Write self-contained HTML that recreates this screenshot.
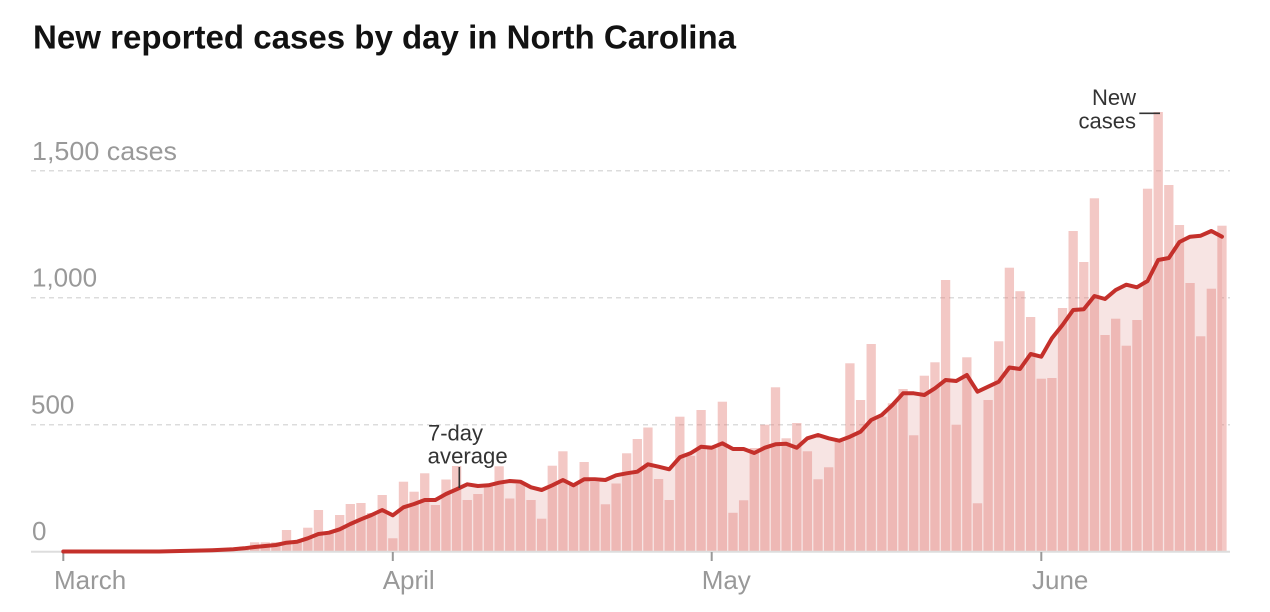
<!DOCTYPE html>
<html><head><meta charset="utf-8"><style>
html,body{margin:0;padding:0;background:#fff;}
svg{display:block;}
</style></head><body>
<svg width="1270" height="612" viewBox="0 0 1270 612" xmlns="http://www.w3.org/2000/svg">
<rect x="0" y="0" width="1270" height="612" fill="#fff"/>
<text x="33" y="48.3" font-family="Liberation Sans, Arial, sans-serif" font-weight="bold" font-size="33" fill="#121212" textLength="703" lengthAdjust="spacingAndGlyphs">New reported cases by day in North Carolina</text>
<g stroke="#dcdcdc" stroke-width="1.5" stroke-dasharray="5 4">
<line x1="31" y1="170.7" x2="1230" y2="170.7"/>
<line x1="31" y1="297.7" x2="1230" y2="297.7"/>
<line x1="31" y1="424.7" x2="1230" y2="424.7"/>
</g>
<g font-family="Liberation Sans, Arial, sans-serif" font-size="26" fill="#999">
<text x="32" y="160" textLength="145" lengthAdjust="spacingAndGlyphs">1,500 cases</text>
<text x="32" y="286.7">1,000</text>
<text x="31" y="413.3">500</text>
<text x="32" y="540">0</text>
</g>
<polygon fill="#f7e4e3" points="63.3,551.7 63.3,551.5 158.97,551.5 169.6,551.3 180.23,551 190.86,550.8 201.49,550.5 212.12,550.2 222.75,549.8 233.38,549.3 244.01,548.3 254.64,547 265.27,546 275.9,545 286.53,542.7 297.16,541.7 307.79,538.3 318.42,534 329.05,532.7 339.68,529.3 350.31,524 360.94,519.3 371.57,515 382.2,510 392.83,515.3 403.46,507.3 414.09,504 424.72,500 435.35,500 445.98,494 456.61,489.3 467.24,484.3 477.87,486 488.5,485.3 499.13,482.7 509.76,481 520.39,481.7 531.02,487.3 541.65,490 552.28,485.3 562.91,480 573.54,485.3 584.17,479.3 594.8,479.3 605.43,480 616.06,475.3 626.69,473.3 637.32,471.7 647.95,464.3 658.58,466.7 669.21,469.3 679.84,457.3 690.47,453.3 701.1,446.7 711.73,447.7 722.36,443.3 732.99,449 743.62,449 754.25,453 764.88,447.7 775.51,444.3 786.14,443.7 796.77,447.7 807.4,438.3 818.03,435 828.66,438.3 839.29,440.7 849.92,436.7 860.55,431.7 871.18,420 881.81,415 892.44,405 903.07,393.3 913.7,393.3 924.33,395 934.96,388.3 945.59,380 956.22,381 966.85,375 977.48,391.7 988.11,386.7 998.74,381.7 1009.37,367.5 1020,369 1030.63,354 1041.26,356.7 1051.89,338.3 1062.52,325 1073.15,310 1083.78,309.3 1094.41,296 1105.04,299 1115.67,290 1126.3,284.7 1136.93,287.3 1147.56,281 1158.19,260 1168.82,258 1179.45,242 1190.08,236.7 1200.71,235.7 1211.34,231 1221.97,236.7 1221.97,551.7"/>
<g fill="rgb(226,124,117)" fill-opacity="0.42">
<rect x="164.95" y="551.4" width="9.3" height="0.6"/>
<rect x="175.58" y="551" width="9.3" height="1"/>
<rect x="186.21" y="551" width="9.3" height="1"/>
<rect x="196.84" y="550.5" width="9.3" height="1.5"/>
<rect x="207.47" y="550" width="9.3" height="2"/>
<rect x="218.10" y="549.5" width="9.3" height="2.5"/>
<rect x="228.73" y="549" width="9.3" height="3"/>
<rect x="239.36" y="546.5" width="9.3" height="5.5"/>
<rect x="249.99" y="542.3" width="9.3" height="9.7"/>
<rect x="260.62" y="542.3" width="9.3" height="9.7"/>
<rect x="271.25" y="542.3" width="9.3" height="9.7"/>
<rect x="281.88" y="530" width="9.3" height="22"/>
<rect x="292.51" y="541.5" width="9.3" height="10.5"/>
<rect x="303.14" y="527.7" width="9.3" height="24.3"/>
<rect x="313.77" y="510" width="9.3" height="42"/>
<rect x="324.40" y="533" width="9.3" height="19"/>
<rect x="335.03" y="515" width="9.3" height="37"/>
<rect x="345.66" y="504" width="9.3" height="48"/>
<rect x="356.29" y="503" width="9.3" height="49"/>
<rect x="366.92" y="513" width="9.3" height="39"/>
<rect x="377.55" y="495" width="9.3" height="57"/>
<rect x="388.18" y="538.3" width="9.3" height="13.7"/>
<rect x="398.81" y="481.7" width="9.3" height="70.3"/>
<rect x="409.44" y="491.7" width="9.3" height="60.3"/>
<rect x="420.07" y="473.3" width="9.3" height="78.7"/>
<rect x="430.70" y="505" width="9.3" height="47"/>
<rect x="441.33" y="479.5" width="9.3" height="72.5"/>
<rect x="451.96" y="466" width="9.3" height="86"/>
<rect x="462.59" y="500" width="9.3" height="52"/>
<rect x="473.22" y="494" width="9.3" height="58"/>
<rect x="483.85" y="486.7" width="9.3" height="65.3"/>
<rect x="494.48" y="466.3" width="9.3" height="85.7"/>
<rect x="505.11" y="498.5" width="9.3" height="53.5"/>
<rect x="515.74" y="484" width="9.3" height="68"/>
<rect x="526.37" y="500" width="9.3" height="52"/>
<rect x="537.00" y="518.7" width="9.3" height="33.3"/>
<rect x="547.63" y="465.7" width="9.3" height="86.3"/>
<rect x="558.26" y="451.3" width="9.3" height="100.7"/>
<rect x="568.89" y="485" width="9.3" height="67"/>
<rect x="579.52" y="462" width="9.3" height="90"/>
<rect x="590.15" y="482" width="9.3" height="70"/>
<rect x="600.78" y="504.3" width="9.3" height="47.7"/>
<rect x="611.41" y="483.5" width="9.3" height="68.5"/>
<rect x="622.04" y="453.3" width="9.3" height="98.7"/>
<rect x="632.67" y="439" width="9.3" height="113"/>
<rect x="643.30" y="427.5" width="9.3" height="124.5"/>
<rect x="653.93" y="479" width="9.3" height="73"/>
<rect x="664.56" y="500" width="9.3" height="52"/>
<rect x="675.19" y="416.7" width="9.3" height="135.3"/>
<rect x="685.82" y="455.8" width="9.3" height="96.2"/>
<rect x="696.45" y="410" width="9.3" height="142"/>
<rect x="707.08" y="448.3" width="9.3" height="103.7"/>
<rect x="717.71" y="401.7" width="9.3" height="150.3"/>
<rect x="728.34" y="512.8" width="9.3" height="39.2"/>
<rect x="738.97" y="500.3" width="9.3" height="51.7"/>
<rect x="749.60" y="448" width="9.3" height="104"/>
<rect x="760.23" y="424.7" width="9.3" height="127.3"/>
<rect x="770.86" y="387.3" width="9.3" height="164.7"/>
<rect x="781.49" y="438.3" width="9.3" height="113.7"/>
<rect x="792.12" y="423" width="9.3" height="129"/>
<rect x="802.75" y="451.3" width="9.3" height="100.7"/>
<rect x="813.38" y="479.3" width="9.3" height="72.7"/>
<rect x="824.01" y="467.3" width="9.3" height="84.7"/>
<rect x="834.64" y="441.7" width="9.3" height="110.3"/>
<rect x="845.27" y="363.3" width="9.3" height="188.7"/>
<rect x="855.90" y="400" width="9.3" height="152"/>
<rect x="866.53" y="344" width="9.3" height="208"/>
<rect x="877.16" y="416.7" width="9.3" height="135.3"/>
<rect x="887.79" y="403.3" width="9.3" height="148.7"/>
<rect x="898.42" y="389" width="9.3" height="163"/>
<rect x="909.05" y="435.3" width="9.3" height="116.7"/>
<rect x="919.68" y="375.7" width="9.3" height="176.3"/>
<rect x="930.31" y="362.3" width="9.3" height="189.7"/>
<rect x="940.94" y="280" width="9.3" height="272"/>
<rect x="951.57" y="424.7" width="9.3" height="127.3"/>
<rect x="962.20" y="357.3" width="9.3" height="194.7"/>
<rect x="972.83" y="503.3" width="9.3" height="48.7"/>
<rect x="983.46" y="400" width="9.3" height="152"/>
<rect x="994.09" y="341.3" width="9.3" height="210.7"/>
<rect x="1004.72" y="267.7" width="9.3" height="284.3"/>
<rect x="1015.35" y="291.2" width="9.3" height="260.8"/>
<rect x="1025.98" y="317" width="9.3" height="235"/>
<rect x="1036.61" y="378.7" width="9.3" height="173.3"/>
<rect x="1047.24" y="378" width="9.3" height="174"/>
<rect x="1057.87" y="308" width="9.3" height="244"/>
<rect x="1068.50" y="231" width="9.3" height="321"/>
<rect x="1079.13" y="262" width="9.3" height="290"/>
<rect x="1089.76" y="198.3" width="9.3" height="353.7"/>
<rect x="1100.39" y="335" width="9.3" height="217"/>
<rect x="1111.02" y="318.7" width="9.3" height="233.3"/>
<rect x="1121.65" y="345.7" width="9.3" height="206.3"/>
<rect x="1132.28" y="320" width="9.3" height="232"/>
<rect x="1142.91" y="188.7" width="9.3" height="363.3"/>
<rect x="1153.54" y="112" width="9.3" height="440"/>
<rect x="1164.17" y="185" width="9.3" height="367"/>
<rect x="1174.80" y="225" width="9.3" height="327"/>
<rect x="1185.43" y="283" width="9.3" height="269"/>
<rect x="1196.06" y="336.3" width="9.3" height="215.7"/>
<rect x="1206.69" y="288.7" width="9.3" height="263.3"/>
<rect x="1217.32" y="225.7" width="9.3" height="326.3"/>
</g>
<line x1="31" y1="551.8" x2="1230" y2="551.8" stroke="#dddddd" stroke-width="2"/>
<g stroke="#999" stroke-width="2">
<line x1="63.3" y1="552" x2="63.3" y2="561"/>
<line x1="392.8" y1="552" x2="392.8" y2="561"/>
<line x1="711.7" y1="552" x2="711.7" y2="561"/>
<line x1="1041.3" y1="552" x2="1041.3" y2="561"/>
</g>
<g font-family="Liberation Sans, Arial, sans-serif" font-size="26" fill="#999">
<text x="54" y="589">March</text>
<text x="382.7" y="589">April</text>
<text x="701.7" y="589">May</text>
<text x="1032" y="589">June</text>
</g>
<polyline fill="none" stroke="#c4302b" stroke-width="4" stroke-linejoin="round" stroke-linecap="round" points="63.3,551.5 158.97,551.5 169.6,551.3 180.23,551 190.86,550.8 201.49,550.5 212.12,550.2 222.75,549.8 233.38,549.3 244.01,548.3 254.64,547 265.27,546 275.9,545 286.53,542.7 297.16,541.7 307.79,538.3 318.42,534 329.05,532.7 339.68,529.3 350.31,524 360.94,519.3 371.57,515 382.2,510 392.83,515.3 403.46,507.3 414.09,504 424.72,500 435.35,500 445.98,494 456.61,489.3 467.24,484.3 477.87,486 488.5,485.3 499.13,482.7 509.76,481 520.39,481.7 531.02,487.3 541.65,490 552.28,485.3 562.91,480 573.54,485.3 584.17,479.3 594.8,479.3 605.43,480 616.06,475.3 626.69,473.3 637.32,471.7 647.95,464.3 658.58,466.7 669.21,469.3 679.84,457.3 690.47,453.3 701.1,446.7 711.73,447.7 722.36,443.3 732.99,449 743.62,449 754.25,453 764.88,447.7 775.51,444.3 786.14,443.7 796.77,447.7 807.4,438.3 818.03,435 828.66,438.3 839.29,440.7 849.92,436.7 860.55,431.7 871.18,420 881.81,415 892.44,405 903.07,393.3 913.7,393.3 924.33,395 934.96,388.3 945.59,380 956.22,381 966.85,375 977.48,391.7 988.11,386.7 998.74,381.7 1009.37,367.5 1020,369 1030.63,354 1041.26,356.7 1051.89,338.3 1062.52,325 1073.15,310 1083.78,309.3 1094.41,296 1105.04,299 1115.67,290 1126.3,284.7 1136.93,287.3 1147.56,281 1158.19,260 1168.82,258 1179.45,242 1190.08,236.7 1200.71,235.7 1211.34,231 1221.97,236.7"/>
<g font-family="Liberation Sans, Arial, sans-serif" font-size="22" fill="#333">
<text x="428" y="440.7">7-day</text>
<text x="427.7" y="463.3" textLength="80" lengthAdjust="spacingAndGlyphs">average</text>
<text x="1136" y="105" text-anchor="end">New</text>
<text x="1136" y="128.5" text-anchor="end">cases</text>
</g>
<line x1="459.3" y1="467" x2="459.3" y2="488" stroke="#333" stroke-width="1.6"/>
<line x1="1139.3" y1="113.3" x2="1160" y2="113.3" stroke="#333" stroke-width="1.6"/>
</svg>
</body></html>
